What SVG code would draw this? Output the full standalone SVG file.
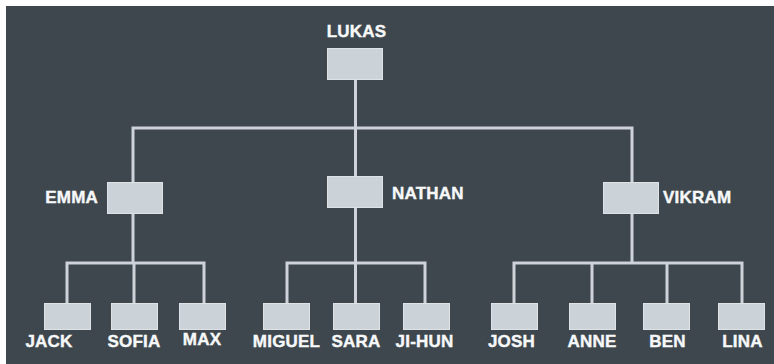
<svg xmlns="http://www.w3.org/2000/svg" width="774" height="364" viewBox="0 0 774 364">
<style>
.bg{fill:#3d474d}
.box{fill:#ccd3d8;stroke:#dfe3e6;stroke-width:1}
.ln{fill:none;stroke:#cdd3d8;stroke-width:3;stroke-linejoin:miter;stroke-linecap:butt}
.t{font-family:"Liberation Sans",Arial,sans-serif;font-weight:bold;font-size:17px;fill:#f7f8f9;stroke:#f7f8f9;stroke-width:0.4;letter-spacing:0.2px}
.c{text-anchor:middle}
.e{text-anchor:end}
</style>
<rect x="0" y="0" width="774" height="364" fill="#ffffff"/>
<rect class="bg" x="6" y="6" width="768" height="358"/>
<g id="connectors">
<path class="ln" d="M355.5 80 V176 M133 182 V128 H632 V182"/>
<path class="ln" d="M133 213 V263 M67 303 V263 H204 V303 M134 263 V303"/>
<path class="ln" d="M355.5 208 V303 M287 303 V263 H425 V303"/>
<path class="ln" d="M632 213 V263 M514 303 V263 H742 V303 M592 263 V303 M667 263 V303"/>
</g>
<g id="lukas"><rect class="box" x="327.5" y="48.5" width="55" height="31"/><text class="t c" x="356.5" y="37">LUKAS</text></g>
<g id="emma"><rect class="box" x="107.5" y="182.5" width="55" height="31"/><text class="t e" x="98" y="203">EMMA</text></g>
<g id="nathan"><rect class="box" x="327.5" y="176.5" width="55" height="31"/><text class="t" x="392" y="199">NATHAN</text></g>
<g id="vikram"><rect class="box" x="603.5" y="182.5" width="55" height="31"/><text class="t" x="663" y="203">VIKRAM</text></g>
<g id="jack"><rect class="box" x="44.5" y="303.5" width="46" height="26"/><text class="t c" x="49" y="347">JACK</text></g>
<g id="sofia"><rect class="box" x="111.5" y="303.5" width="46" height="26"/><text class="t c" x="134" y="347">SOFIA</text></g>
<g id="max"><rect class="box" x="179.5" y="303.5" width="46" height="26"/><text class="t c" x="202" y="345">MAX</text></g>
<g id="miguel"><rect class="box" x="263.5" y="303.5" width="46" height="26"/><text class="t c" x="286.5" y="347">MIGUEL</text></g>
<g id="sara"><rect class="box" x="333.5" y="303.5" width="46" height="26"/><text class="t c" x="356" y="347">SARA</text></g>
<g id="ji-hun"><rect class="box" x="403.5" y="303.5" width="46" height="26"/><text class="t c" x="424.5" y="347">JI-HUN</text></g>
<g id="josh"><rect class="box" x="491.5" y="303.5" width="46" height="26"/><text class="t c" x="511.5" y="347">JOSH</text></g>
<g id="anne"><rect class="box" x="569.5" y="303.5" width="46" height="26"/><text class="t c" x="592" y="347">ANNE</text></g>
<g id="ben"><rect class="box" x="643.5" y="303.5" width="46" height="26"/><text class="t c" x="667.5" y="347">BEN</text></g>
<g id="lina"><rect class="box" x="718.5" y="303.5" width="46" height="26"/><text class="t c" x="742.5" y="347">LINA</text></g>
</svg>
